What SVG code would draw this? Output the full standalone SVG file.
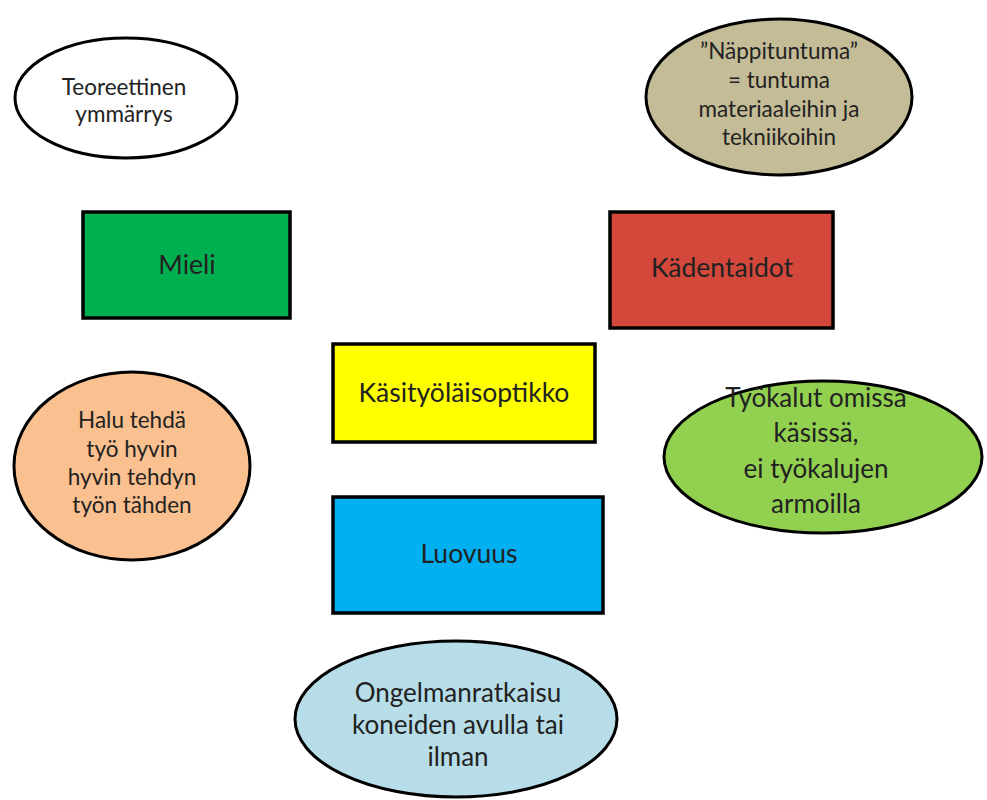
<svg xmlns="http://www.w3.org/2000/svg" width="987" height="800" viewBox="0 0 987 800">
<style>
  .shape { stroke: #000; stroke-width: 3.5; }
  .el { stroke: #000; stroke-width: 3; }
  text { font-family: Lato, "Liberation Sans", sans-serif; fill: #222; text-anchor: middle; }
  .big { font-size: 26.5px; }
  .mid { font-size: 26px; }
  .sm { font-size: 22.5px; }
</style>
<rect width="987" height="800" fill="#fff"/>
<g id="connectors"></g>
<g id="teoreettinen">
  <ellipse class="el" cx="126" cy="98" rx="111" ry="60" fill="#fff"/>
  <text class="sm" x="124" y="95">Teoreettinen</text>
  <text class="sm" x="124" y="122">ymmärrys</text>
</g>
<g id="nappituntuma">
  <ellipse class="el" cx="779" cy="97" rx="133" ry="78" fill="#C4BC96"/>
  <text class="sm" x="779" y="59">”Näppituntuma”</text>
  <text class="sm" x="779" y="88">= tuntuma</text>
  <text class="sm" x="779" y="117">materiaaleihin ja</text>
  <text class="sm" x="779" y="145">tekniikoihin</text>
</g>
<g id="mieli">
  <rect class="shape" x="83" y="212" width="207" height="106" fill="#00B050"/>
  <text class="big" x="187" y="274">Mieli</text>
</g>
<g id="kadentaidot">
  <rect class="shape" x="610" y="212" width="223" height="116" fill="#D4483B"/>
  <text class="big" x="722" y="277">Kädentaidot</text>
</g>
<g id="kasityolaisoptikko">
  <rect class="shape" x="333" y="344" width="262" height="98" fill="#FFFF00"/>
  <text class="big" x="464" y="402">Käsityöläisoptikko</text>
</g>
<g id="halu">
  <ellipse class="el" cx="132" cy="466" rx="118" ry="94" fill="#FAC090"/>
  <text class="sm" x="132" y="428">Halu tehdä</text>
  <text class="sm" x="132" y="457">työ hyvin</text>
  <text class="sm" x="132" y="485">hyvin tehdyn</text>
  <text class="sm" x="132" y="513">työn tähden</text>
</g>
<g id="tyokalut">
  <ellipse class="el" cx="823" cy="457" rx="159" ry="76" fill="#92D050"/>
  <text class="mid" x="816" y="407">Työkalut omissa</text>
  <text class="mid" x="816" y="442">käsissä,</text>
  <text class="mid" x="816" y="478">ei työkalujen</text>
  <text class="mid" x="816" y="513">armoilla</text>
</g>
<g id="luovuus">
  <rect class="shape" x="333" y="497" width="270" height="116" fill="#00B0F0"/>
  <text class="big" x="469" y="563">Luovuus</text>
</g>
<g id="ongelmanratkaisu">
  <ellipse class="el" cx="456" cy="719" rx="161" ry="78" fill="#B7DDE8"/>
  <text class="mid" x="458" y="702">Ongelmanratkaisu</text>
  <text class="mid" x="458" y="734">koneiden avulla tai</text>
  <text class="mid" x="458" y="766">ilman</text>
</g>
</svg>
